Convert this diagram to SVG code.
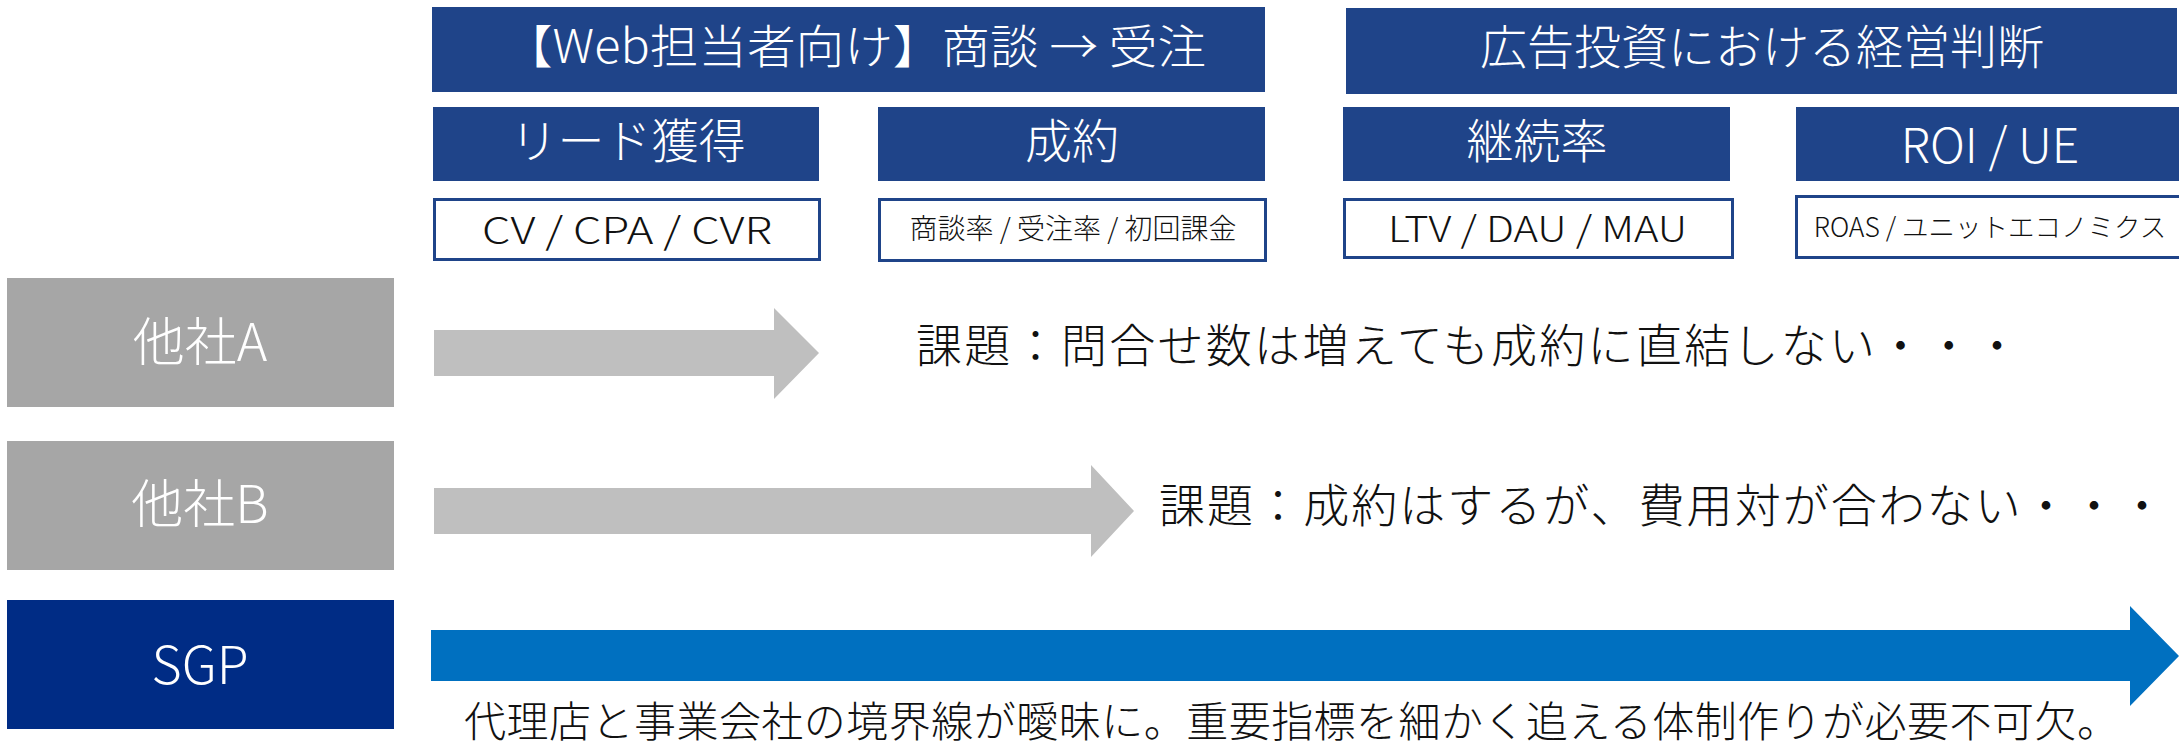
<svg xmlns="http://www.w3.org/2000/svg" width="2179" height="746" viewBox="0 0 2179 746">
<style>
.hdr{fill:#1F4489;}
.met{fill:#FFFFFF;stroke:#1F4489;stroke-width:3;}
.gbox{fill:#A6A6A6;}
.sbox{fill:#002C85;}
.garr{fill:#BFBFBF;}
.barr{fill:#0070C0;}
text{font-family:"Noto Sans CJK JP","Noto Sans",sans-serif;font-weight:300;}
.wt{fill:#FFFFFF;text-anchor:middle;}
.ws{fill:#FFFFFF;}
.bt{fill:#111111;}
.bc{fill:#111111;text-anchor:middle;}
</style>
<rect width="2179" height="746" fill="#FFFFFF"/>
<g id="header-web">
<rect class="hdr" x="432" y="7" width="833" height="85"/>
<text class="ws" x="504" y="63" font-size="46" textLength="702" lengthAdjust="spacingAndGlyphs">【Web担当者向け】商談 → 受注</text>
</g>
<g id="header-mgmt">
<rect class="hdr" x="1346" y="8" width="831" height="86"/>
<text class="wt" x="1762" y="64" font-size="47">広告投資における経営判断</text>
</g>
<g id="lead">
<rect class="hdr" x="433" y="107" width="386" height="74"/>
<text class="wt" x="628" y="158" font-size="47">リード獲得</text>
</g>
<g id="contract">
<rect class="hdr" x="878" y="107" width="387" height="74"/>
<text class="wt" x="1072" y="158" font-size="47">成約</text>
</g>
<g id="retention">
<rect class="hdr" x="1343" y="107" width="387" height="74"/>
<text class="wt" x="1537" y="158" font-size="47">継続率</text>
</g>
<g id="roi">
<rect class="hdr" x="1796" y="107" width="383" height="74"/>
<text class="wt" x="1990" y="163" font-size="48">ROI / UE</text>
</g>
<g id="m-lead">
<rect class="met" x="434.5" y="199.5" width="385" height="60"/>
<text class="bt" x="482" y="244" font-size="37" textLength="290" lengthAdjust="spacingAndGlyphs">CV / CPA / CVR</text>
</g>
<g id="m-contract">
<rect class="met" x="879.5" y="199.5" width="386" height="61"/>
<text class="bc" x="1073" y="239" font-size="28">商談率 / 受注率 / 初回課金</text>
</g>
<g id="m-retention">
<rect class="met" x="1344.5" y="199.5" width="388" height="58"/>
<text class="bt" x="1388" y="242" font-size="36" textLength="299" lengthAdjust="spacingAndGlyphs">LTV / DAU / MAU</text>
</g>
<g id="m-roi">
<rect class="met" x="1796.5" y="196.5" width="386" height="61"/>
<text class="bc" x="1990" y="237" font-size="26.5">ROAS / ユニットエコノミクス</text>
</g>
<g id="company-a">
<rect class="gbox" x="7" y="278" width="387" height="129"/>
<text class="wt" x="200" y="361" font-size="52">他社A</text>
</g>
<g id="company-b">
<rect class="gbox" x="7" y="441" width="387" height="129"/>
<text class="wt" x="200" y="523" font-size="52">他社B</text>
</g>
<g id="sgp">
<rect class="sbox" x="7" y="600" width="387" height="129"/>
<text class="wt" x="200" y="684" font-size="52">SGP</text>
</g>
<g id="connectors">
<polygon class="garr" points="434,330 774,330 774,308 819,353 774,399 774,376 434,376"/>
<polygon class="garr" points="434,488 1091,488 1091,465 1134,511 1091,557 1091,534 434,534"/>
<polygon class="barr" points="431,630 2130,630 2130,606 2179,656 2130,706 2130,681 431,681"/>
</g>
<g id="issue-a">
<text class="bt" x="916" y="362" font-size="46" textLength="1104" lengthAdjust="spacing">課題：問合せ数は増えても成約に直結しない・・・</text>
</g>
<g id="issue-b">
<text class="bt" x="1159" y="522" font-size="46" textLength="1006" lengthAdjust="spacing">課題：成約はするが、費用対が合わない・・・</text>
</g>
<g id="sgp-note">
<text class="bt" x="464" y="737" font-size="42" textLength="1655" lengthAdjust="spacing">代理店と事業会社の境界線が曖昧に。重要指標を細かく追える体制作りが必要不可欠。</text>
</g>
</svg>
